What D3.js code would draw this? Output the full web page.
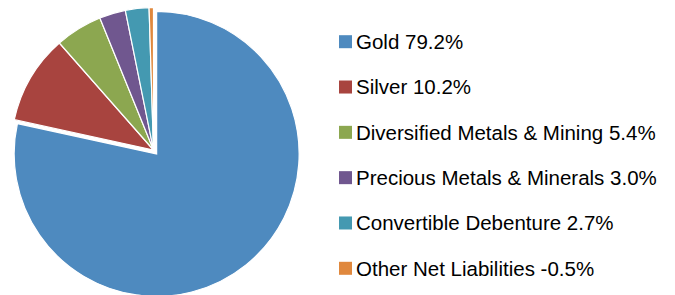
<!DOCTYPE html>
<html><head><meta charset="utf-8">
<script src="https://cdn.jsdelivr.net/npm/d3@7"></script>
<style>html,body{margin:0;padding:0;background:#fff;}svg{display:block;}</style>
</head><body>
<svg id="chart" width="675" height="295"></svg>
<script>
const categories = ["Gold", "Silver", "Diversified Metals & Mining", "Precious Metals & Minerals", "Convertible Debenture", "Other Net Liabilities"];
const values = [79.2, 10.2, 5.4, 3.0, 2.7, -0.5];
const colors = ["#4E8ABF", "#A8443F", "#8CA750", "#70578F", "#4499B1", "#E0883D"];
const exploded = [5, 0, 0, 0, 0, 0];

const svg = d3.select("#chart");
const cx = 153.5, cy = 150, r = 142.5;

const data = categories.map((c, i) => ({name: c, value: values[i], color: colors[i], explode: exploded[i]}));
const pie = d3.pie().sort(null).value(d => Math.abs(d.value));
const arc = d3.arc().innerRadius(0).outerRadius(r);
const arcs = pie(data);

const g = svg.append("g").attr("transform", `translate(${cx},${cy})`);
g.selectAll("path").data(arcs).join("path")
  .attr("d", arc)
  .attr("fill", d => d.data.color)
  .attr("stroke", "#fff")
  .attr("stroke-width", 1.2)
  .attr("transform", d => {
    const a = (d.startAngle + d.endAngle) / 2;
    const e = d.data.explode;
    return `translate(${e * Math.sin(a)},${-e * Math.cos(a)})`;
  });

const legendY = d3.scaleLinear().domain([0, categories.length - 1]).range([41.7, 268.3]);
const lg = svg.append("g");
const items = lg.selectAll("g").data(data).join("g")
  .attr("transform", (d, i) => `translate(339,${legendY(i)})`);
items.append("rect").attr("x", 0).attr("y", -6.5).attr("width", 13).attr("height", 13).attr("fill", d => d.color);
items.append("text").attr("x", 17).attr("y", 0).attr("dy", "0.36em")
  .attr("font-family", "'Liberation Sans', Arial, sans-serif").attr("font-size", 20.5)
  .attr("fill", "#000")
  .text(d => `${d.name} ${d.value.toFixed(1)}%`);
</script>
</body></html>
